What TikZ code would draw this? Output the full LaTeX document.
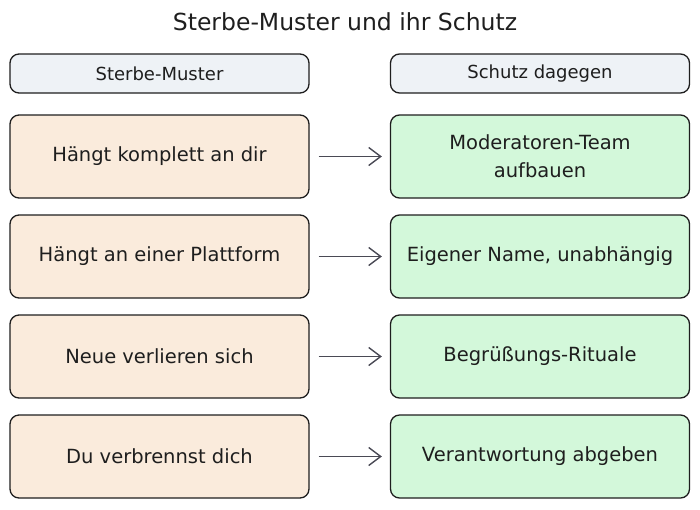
\documentclass[tikz,border=0pt]{standalone}
\usepackage{fontspec}
\setmainfont{DejaVu Sans}
\usetikzlibrary{arrows.meta}
\definecolor{inkdark}{HTML}{1E1E1E}
\definecolor{arrowgray}{HTML}{4A4A55}
\definecolor{headfill}{HTML}{EEF2F6}
\definecolor{riskfill}{HTML}{FAEBDC}
\definecolor{guardfill}{HTML}{D3F8DA}
\tikzset{
	card/.style={draw=inkdark, line width=1.3pt, rounded corners=9pt, text=inkdark,
		minimum width=299pt, minimum height=83pt, align=center, inner sep=4pt,
		font=\fontsize{19.5}{28}\selectfont},
	headcard/.style={card, fill=headfill, minimum height=39pt, font=\fontsize{18}{20}\selectfont},
	riskcard/.style={card, fill=riskfill},
	guardcard/.style={card, fill=guardfill},
	fixarrow/.style={draw=arrowgray, line width=1.4pt, -{Straight Barb[length=12pt,width=18pt]},
		shorten <=9pt, shorten >=8pt}
}
\begin{document}
\begin{tikzpicture}[x=1pt,y=-1pt]
	\useasboundingbox (0,0) rectangle (700,509);
	% title
	\node[text=inkdark, font=\fontsize{23.5}{26}\selectfont] (title) at (345,22) {Sterbe-Muster und ihr Schutz};
	% column heads
	\node[headcard] (headrisk) at (159.5,73.5) {Sterbe-Muster};
	\node[headcard] (headguard) at (540,73.5) {Schutz dagegen};
	% rows
	\foreach \i/\risk/\guard in {1/{Hängt komplett an dir}/{Moderatoren-Team\\aufbauen},
		2/{Hängt an einer Plattform}/{Eigener Name, unabhängig},
		3/{Neue verlieren sich}/{Begrüßungs-Rituale},
		4/{Du verbrennst dich}/{Verantwortung abgeben}}
	{
		\node[riskcard] (risk\i) at (159.5,56.5+100*\i) {\risk};
		\node[guardcard] (guard\i) at (540,56.5+100*\i) {\guard};
		\draw[fixarrow] (risk\i.east) -- (guard\i.west);
	}
\end{tikzpicture}
\end{document}
